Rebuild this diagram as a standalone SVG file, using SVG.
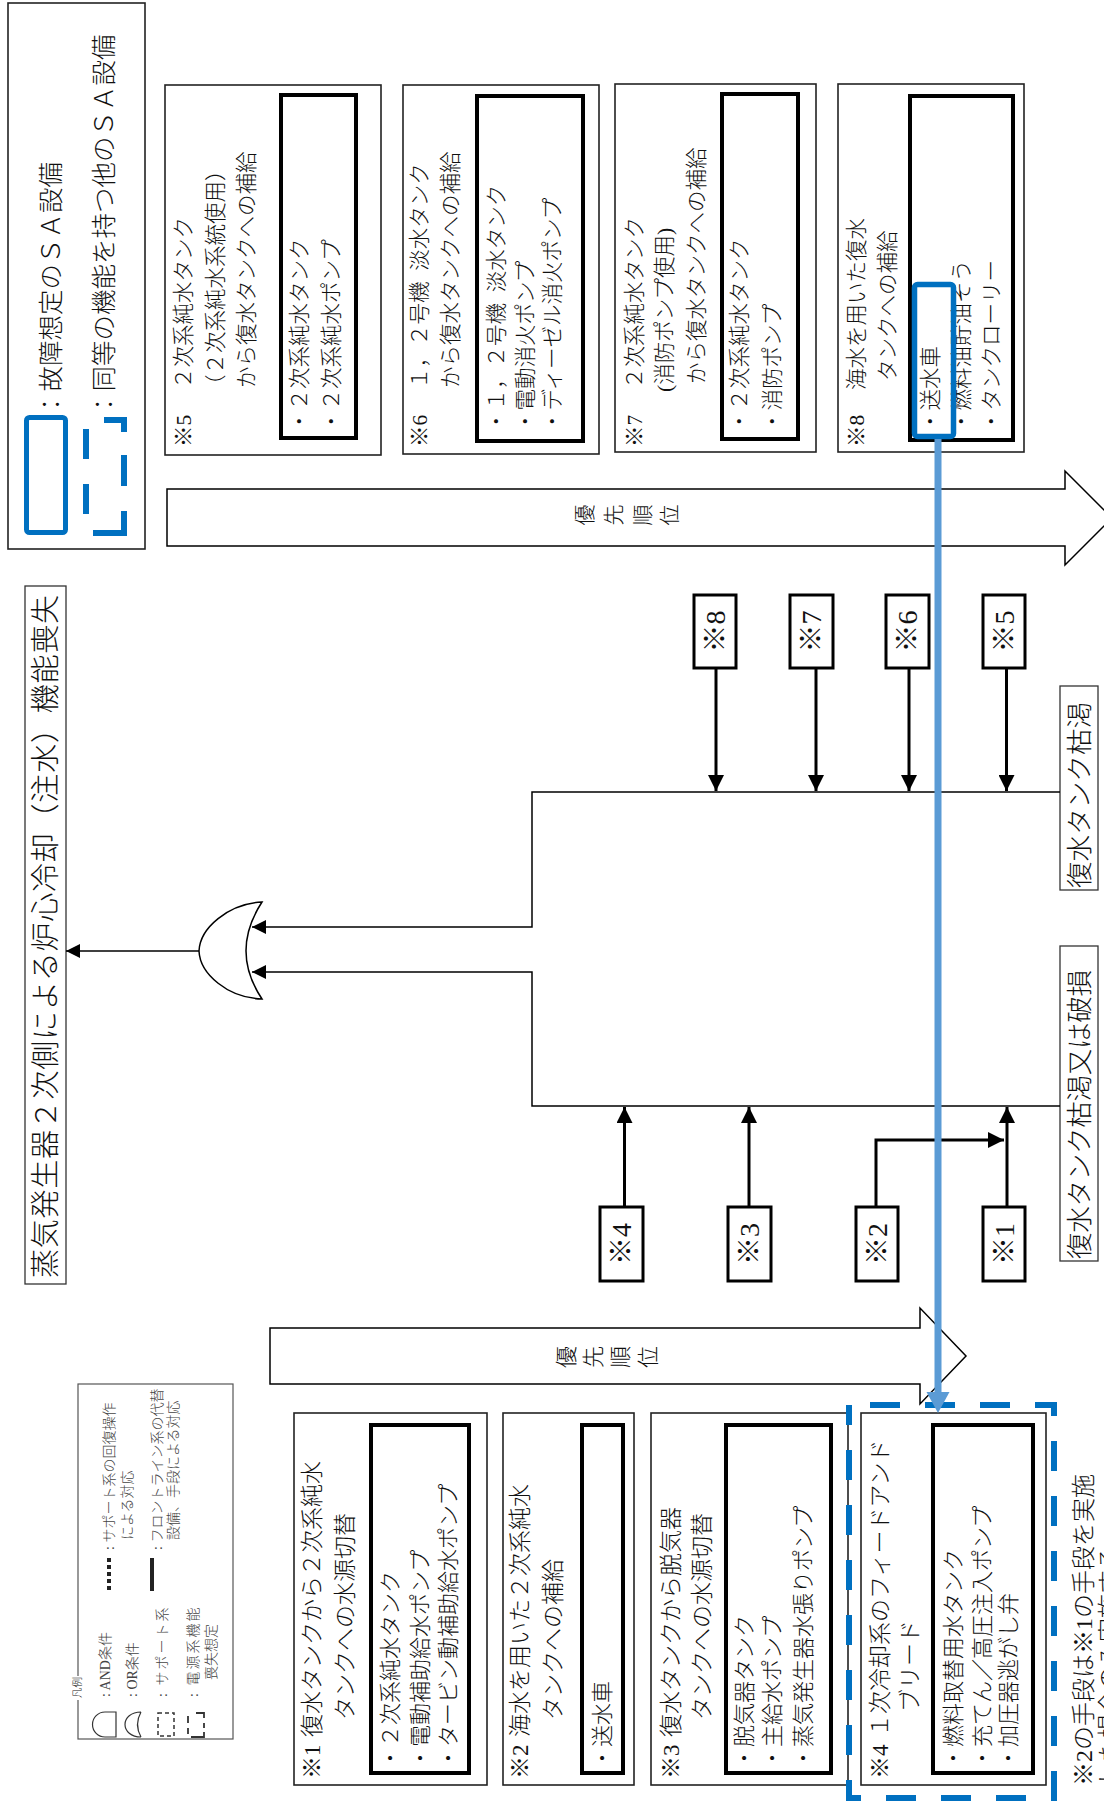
<svg xmlns="http://www.w3.org/2000/svg" width="1104" height="1801" viewBox="0 0 1104 1801">
<defs>
<style>
.t{font-family:'Liberation Serif','Noto Sans CJK JP',serif;fill:#111;dominant-baseline:central;font-weight:300}
.a{font-size:21.5px}.b{font-size:23px}.c{font-size:22px}.lg{font-size:14px;fill:#444}
.ob{fill:#fff;stroke:#222;stroke-width:1.6}
.ib{fill:none;stroke:#000;stroke-width:4}
.lb{fill:#fff;stroke:#333;stroke-width:1.3}
.nb{fill:#fff;stroke:#000;stroke-width:3}
.ln{fill:none;stroke:#000;stroke-width:1.5}
.tk{fill:none;stroke:#000;stroke-width:3}
.m{text-anchor:middle}
</style>
<marker id="ah" viewBox="0 0 14 14" refX="14" refY="7" markerWidth="14" markerHeight="14" markerUnits="userSpaceOnUse" orient="auto"><path d="M0,0 L14,7 L0,14 Z" fill="#000"/></marker>
<marker id="ah2" viewBox="0 0 16 16" refX="16" refY="8" markerWidth="16" markerHeight="16" markerUnits="userSpaceOnUse" orient="auto"><path d="M0,0 L16,8 L0,16 Z" fill="#000"/></marker>
</defs>
<rect width="1104" height="1801" fill="#fff"/>

<g id="legend-top">
<rect x="8" y="3" width="137" height="546" class="ob"/>
<rect x="26.5" y="417.5" width="39" height="115" rx="3" fill="none" stroke="#0070c0" stroke-width="5"/>
<path d="M104,420 H124 V432 M124,455 V486 M124,511 V533 H93 M86,429 V459 M86,484 V514" fill="none" stroke="#0070c0" stroke-width="6"/>
<text class="t" font-size="25.5" transform="translate(51,417) rotate(-90)">：故障想定のＳＡ設備</text>
<text class="t" font-size="25.5" transform="translate(104,417) rotate(-90)">：同等の機能を持つ他のＳＡ設備</text>
</g>

<g id="title">
<rect x="25" y="586" width="41" height="698" class="lb"/>
<text class="t" font-size="29" textLength="683" lengthAdjust="spacing" transform="translate(45.5,1278) rotate(-90)">蒸気発生器２次側による炉心冷却（注水）機能喪失</text>
</g>

<g id="or-gate">
<path d="M262,902 Q230,951 262,999 C228,998 200,974 199,951 C200,928 228,904 262,902 Z" fill="#fff" stroke="#000" stroke-width="1.5"/>
</g>

<g id="label-kokatsu">
<rect x="1060" y="686" width="38" height="204" class="lb"/>
<text class="t" font-size="26.5" textLength="186" lengthAdjust="spacing" transform="translate(1079.5,888) rotate(-90)">復水タンク枯渇</text>
</g>
<g id="label-hason">
<rect x="1060" y="946" width="38" height="315" class="lb"/>
<text class="t" font-size="26.5" textLength="289" lengthAdjust="spacing" transform="translate(1079.5,1259) rotate(-90)">復水タンク枯渇又は破損</text>
</g>

<g id="connectors">
<line x1="199" y1="951" x2="66" y2="951" class="ln" marker-end="url(#ah)"/>
<polyline points="1060,792 532,792 532,927 252,927" class="ln" marker-end="url(#ah)"/>
<polyline points="1060,1106 532,1106 532,972 252,972" class="ln" marker-end="url(#ah)"/>
<line x1="716" y1="668" x2="716" y2="791" class="tk" marker-end="url(#ah2)"/>
<line x1="816" y1="668" x2="816" y2="791" class="tk" marker-end="url(#ah2)"/>
<line x1="909" y1="668" x2="909" y2="791" class="tk" marker-end="url(#ah2)"/>
<line x1="1006.5" y1="668" x2="1006.5" y2="791" class="tk" marker-end="url(#ah2)"/>
<line x1="624.5" y1="1207" x2="624.5" y2="1107" class="tk" marker-end="url(#ah2)"/>
<line x1="749" y1="1207" x2="749" y2="1107" class="tk" marker-end="url(#ah2)"/>
<line x1="1007" y1="1207" x2="1007" y2="1107" class="tk" marker-end="url(#ah2)"/>
<polyline points="876,1207 876,1140 1004,1140" class="tk" marker-end="url(#ah2)"/>
</g>

<g id="n8"><rect x="694" y="595" width="42" height="73" class="nb"/><text class="t m" font-size="28" transform="translate(715,631.5) rotate(-90)">※8</text></g>
<g id="n7"><rect x="790" y="595" width="43" height="73" class="nb"/><text class="t m" font-size="28" transform="translate(811.5,631.5) rotate(-90)">※7</text></g>
<g id="n6"><rect x="886" y="595" width="43" height="73" class="nb"/><text class="t m" font-size="28" transform="translate(907.5,631.5) rotate(-90)">※6</text></g>
<g id="n5"><rect x="983" y="595" width="42" height="73" class="nb"/><text class="t m" font-size="28" transform="translate(1004,631.5) rotate(-90)">※5</text></g>
<g id="n4"><rect x="600" y="1207" width="43" height="74" class="nb"/><text class="t m" font-size="28" transform="translate(621.5,1244) rotate(-90)">※4</text></g>
<g id="n3"><rect x="728" y="1207" width="43" height="74" class="nb"/><text class="t m" font-size="28" transform="translate(749.5,1244) rotate(-90)">※3</text></g>
<g id="n2"><rect x="856" y="1207" width="42" height="74" class="nb"/><text class="t m" font-size="28" transform="translate(877,1244) rotate(-90)">※2</text></g>
<g id="n1"><rect x="983" y="1207" width="42" height="74" class="nb"/><text class="t m" font-size="28" transform="translate(1004,1244) rotate(-90)">※1</text></g>

<g id="priority-top">
<path d="M167,489 H1065 V471 L1112,518 L1065,565 V546 H167 Z" fill="#fff" stroke="#000" stroke-width="1.5"/>
<text class="t m" font-size="21" transform="translate(585,515) rotate(-90)">優</text>
<text class="t m" font-size="21" transform="translate(614,515) rotate(-90)">先</text>
<text class="t m" font-size="21" transform="translate(643,515) rotate(-90)">順</text>
<text class="t m" font-size="21" transform="translate(670,515) rotate(-90)">位</text>
</g>
<g id="priority-bottom">
<path d="M270,1328 H920 V1308 L966,1356 L920,1404 V1384 H270 Z" fill="#fff" stroke="#000" stroke-width="1.5"/>
<text class="t m" font-size="22" transform="translate(566,1357) rotate(-90)">優</text>
<text class="t m" font-size="22" transform="translate(593,1357) rotate(-90)">先</text>
<text class="t m" font-size="22" transform="translate(620,1357) rotate(-90)">順</text>
<text class="t m" font-size="22" transform="translate(648,1357) rotate(-90)">位</text>
</g>

<g id="box5">
<rect x="165" y="85" width="216" height="370" class="ob"/>
<rect x="281" y="95" width="75" height="343" class="ib"/>
<text class="t a" transform="translate(184,447) rotate(-90)">※5</text>
<text class="t a" transform="translate(184,389) rotate(-90)">２次系純水タンク</text>
<text class="t a" transform="translate(216,396) rotate(-90)">（２次系純水系統使用）</text>
<text class="t a" transform="translate(247,388) rotate(-90)">から復水タンクへの補給</text>
<text class="t a" transform="translate(300,432) rotate(-90)">・２次系純水タンク</text>
<text class="t a" transform="translate(332,432) rotate(-90)">・２次系純水ポンプ</text>
</g>
<g id="box6">
<rect x="403" y="85" width="196" height="369" class="ob"/>
<rect x="477" y="96" width="106" height="345" class="ib"/>
<text class="t a" transform="translate(420,447) rotate(-90)">※6</text>
<text class="t a" transform="translate(420,389) rotate(-90)">１，２号機&#x2002;淡水タンク</text>
<text class="t a" transform="translate(451,388) rotate(-90)">から復水タンクへの補給</text>
<text class="t a" transform="translate(497,432) rotate(-90)">・１，２号機&#x2002;淡水タンク</text>
<text class="t a" transform="translate(526,432) rotate(-90)">・電動消火ポンプ</text>
<text class="t a" transform="translate(553,432) rotate(-90)">・ディーゼル消火ポンプ</text>
</g>
<g id="box7">
<rect x="615" y="84" width="201" height="368" class="ob"/>
<rect x="722" y="94" width="76" height="345" class="ib"/>
<text class="t a" transform="translate(635,447) rotate(-90)">※7</text>
<text class="t a" transform="translate(635,389) rotate(-90)">２次系純水タンク</text>
<text class="t a" transform="translate(665,392) rotate(-90)">(消防ポンプ使用)</text>
<text class="t a" transform="translate(697,384) rotate(-90)">から復水タンクへの補給</text>
<text class="t a" transform="translate(740,432) rotate(-90)">・２次系純水タンク</text>
<text class="t a" transform="translate(773,432) rotate(-90)">・消防ポンプ</text>
</g>
<g id="box8">
<rect x="838" y="84" width="186" height="368" class="ob"/>
<rect x="910" y="96" width="103" height="344" class="ib"/>
<text class="t a" transform="translate(857,447) rotate(-90)">※8</text>
<text class="t a" transform="translate(857,390) rotate(-90)">海水を用いた復水</text>
<text class="t a" transform="translate(888,381) rotate(-90)">タンクへの補給</text>
<text class="t a" transform="translate(931,432) rotate(-90)">・送水車</text>
<text class="t a" transform="translate(962,432) rotate(-90)">・燃料油貯油そう</text>
<text class="t a" transform="translate(992,432) rotate(-90)">・タンクローリー</text>
<rect x="914.5" y="284.5" width="39" height="152" rx="3" fill="none" stroke="#0070c0" stroke-width="5.5"/>
</g>

<g id="box1">
<rect x="294" y="1413" width="193" height="372" class="ob"/>
<rect x="371" y="1425" width="98" height="348" class="ib"/>
<text class="t b" transform="translate(312,1779) rotate(-90)">※1</text>
<text class="t b" transform="translate(312,1737) rotate(-90)">復水タンクから２次系純水</text>
<text class="t b" transform="translate(345,1720) rotate(-90)">タンクへの水源切替</text>
<text class="t c" transform="translate(390,1769) rotate(-90)">・２次系純水タンク</text>
<text class="t c" transform="translate(420,1769) rotate(-90)">・電動補助給水ポンプ</text>
<text class="t c" transform="translate(448,1769) rotate(-90)">・タービン動補助給水ポンプ</text>
</g>
<g id="box2">
<rect x="503" y="1413" width="131" height="372" class="ob"/>
<rect x="582" y="1425" width="41" height="348" class="ib"/>
<text class="t b" transform="translate(520,1779) rotate(-90)">※2</text>
<text class="t b" transform="translate(520,1737) rotate(-90)">海水を用いた２次系純水</text>
<text class="t b" transform="translate(553,1720) rotate(-90)">タンクへの補給</text>
<text class="t c" transform="translate(602,1769) rotate(-90)">・送水車</text>
</g>
<g id="box3">
<rect x="651" y="1413" width="197" height="372" class="ob"/>
<rect x="726" y="1425" width="105" height="348" class="ib"/>
<text class="t b" transform="translate(671,1779) rotate(-90)">※3</text>
<text class="t b" transform="translate(671,1737) rotate(-90)">復水タンクから脱気器</text>
<text class="t b" transform="translate(702,1720) rotate(-90)">タンクへの水源切替</text>
<text class="t c" transform="translate(744,1769) rotate(-90)">・脱気器タンク</text>
<text class="t c" transform="translate(772,1769) rotate(-90)">・主給水ポンプ</text>
<text class="t c" transform="translate(803,1769) rotate(-90)">・蒸気発生器水張りポンプ</text>
</g>
<g id="box4">
<rect x="861" y="1413" width="185" height="372" class="ob"/>
<rect x="933" y="1425" width="100" height="348" class="ib"/>
<text class="t b" transform="translate(880,1779) rotate(-90)">※4</text>
<text class="t b" transform="translate(880,1737) rotate(-90)">１次冷却系のフィードアンド</text>
<text class="t b" transform="translate(910,1712) rotate(-90)">ブリード</text>
<text class="t c" transform="translate(953,1769) rotate(-90)">・燃料取替用水タンク</text>
<text class="t c" transform="translate(982,1769) rotate(-90)">・充てん／高圧注入ポンプ</text>
<text class="t c" transform="translate(1008,1769) rotate(-90)">・加圧器逃がし弁</text>
</g>
<g id="sa-frame">
<rect x="849" y="1405" width="205" height="393" fill="none" stroke="#0070c0" stroke-width="6" stroke-dasharray="30 25" stroke-dashoffset="34"/>
</g>

<g id="note">
<text class="t" font-size="24" transform="translate(1084,1786) rotate(-90)">※2の手段は※1の手段を実施</text>
<text class="t" font-size="24" transform="translate(1110,1786) rotate(-90)">した場合のみ実施する</text>
</g>

<g id="legend-bottom">
<rect x="78" y="1384" width="155" height="355" fill="none" stroke="#555" stroke-width="1.2"/>
<rect x="71" y="1676" width="14" height="24" fill="#fff"/>
<text class="t" font-size="10.5" fill="#444" transform="translate(77,1698) rotate(-90)">凡例</text>
<path d="M116,1712 H105 A12.5,12.5 0 0 0 105,1737 H116 Z" fill="none" stroke="#333" stroke-width="1.2"/>
<path d="M141,1712 Q134,1724.5 141,1737 M141,1712 C131,1712 125,1718 125,1724.5 C125,1731 131,1737 141,1737" fill="none" stroke="#333" stroke-width="1.2"/>
<rect x="158" y="1713" width="16" height="23" fill="none" stroke="#333" stroke-width="1.5" stroke-dasharray="4 3"/>
<path d="M196,1713 H204 V1718 M204,1723 V1728 M204,1732 V1737 H191 M188,1716 V1723 M188,1728 V1734" fill="none" stroke="#333" stroke-width="1.8"/>
<text class="t lg" transform="translate(105,1697) rotate(-90)">: AND条件</text>
<text class="t lg" transform="translate(132,1697) rotate(-90)">: OR条件</text>
<text class="t lg" letter-spacing="2" transform="translate(162,1697) rotate(-90)">: サポート系</text>
<text class="t lg" letter-spacing="2" transform="translate(193,1697) rotate(-90)">: 電源系機能</text>
<text class="t lg" transform="translate(211,1680) rotate(-90)">喪失想定</text>
<line x1="109" y1="1558" x2="109" y2="1591" stroke="#222" stroke-width="4" stroke-dasharray="4 3"/>
<line x1="152" y1="1558" x2="152" y2="1591" stroke="#222" stroke-width="4"/>
<text class="t lg" transform="translate(109,1550) rotate(-90)">: サポート系の回復操作</text>
<text class="t lg" transform="translate(127,1540) rotate(-90)">による対応</text>
<text class="t lg" transform="translate(157,1550) rotate(-90)">: フロントライン系の代替</text>
<text class="t lg" transform="translate(173,1540) rotate(-90)">設備、手段による対応</text>
</g>

<g id="sa-link">
<line x1="938" y1="439" x2="938" y2="1393" stroke="#5b9bd5" stroke-width="7"/>
<polygon points="926.5,1392 949.5,1392 938,1413" fill="#5b9bd5"/>
</g>
</svg>
